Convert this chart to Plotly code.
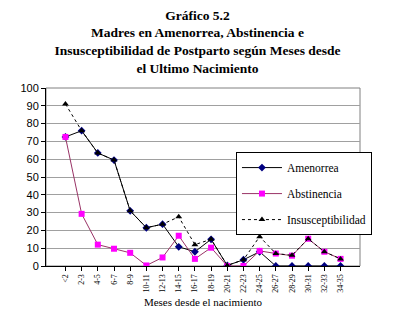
import plotly.graph_objects as go

categorias = ["<2", "2-3", "4-5", "6-7", "8-9", "10-11", "12-13", "14-15", "16-17",
              "18-19", "20-21", "22-23", "24-25", "26-27", "28-29", "30-31", "32-33", "34-35"]
amenorrea = [72.5, 76, 63.5, 59.5, 31, 21.5, 23.5, 10.8, 8, 15, 0.3, 3.5, 8, 0, 0, 0, 0, 0]
abstinencia = [72.5, 29.3, 12, 9.7, 7.4, 0.3, 4.8, 17, 4, 10.3, 0, 0, 8.5, 7, 5.8, 15.3, 8, 4]
insusceptibilidad = [91, 76, 63.5, 59.5, 31, 21.5, 23.5, 27.6, 12, 15, 0.3, 3.5, 16.5, 7, 6, 15.3, 8, 4]
yticks = [0, 10, 20, 30, 40, 50, 60, 70, 80, 90, 100]

serif = "Liberation Serif"
sans = "Liberation Sans"

fig = go.Figure()
fig.add_trace(go.Scatter(
    x=categorias, y=amenorrea, name="Amenorrea", mode="lines+markers",
    line=dict(color="black", width=1),
    marker=dict(symbol="diamond", color="#000080", size=6),
    legendgroup="a"))
fig.add_trace(go.Scatter(
    x=categorias, y=abstinencia, name="Abstinencia", mode="lines+markers",
    line=dict(color="#993366", width=1),
    marker=dict(symbol="square", color="#FF00FF", size=6),
    legendgroup="b"))
fig.add_trace(go.Scatter(
    x=categorias, y=insusceptibilidad, name="Insusceptibilidad", mode="lines+markers",
    line=dict(color="black", width=1, dash="dot"),
    marker=dict(symbol="triangle-up", color="black", size=6),
    legendgroup="c"))

fig.update_layout(
    width=395, height=332,
    margin=dict(l=46, r=35, t=88, b=66),
    paper_bgcolor="white", plot_bgcolor="white",
    font=dict(family=serif, color="black", size=12),
    title=dict(
        text="<b>Gráfico 5.2</b><br><b>Madres en Amenorrea, Abstinencia e</b><br>"
             "<b>Insusceptibilidad de Postparto según Meses desde</b><br><b>el Ultimo Nacimiento</b>",
        x=0.5, xanchor="center", y=0.94, yanchor="top",
        font=dict(family=serif, size=13.5, color="black")),
    legend=dict(
        x=0.605, y=0.64, xanchor="left", yanchor="top",
        bgcolor="white", bordercolor="black", borderwidth=1,
        font=dict(family=serif, size=11.5, color="black"),
        tracegroupgap=7, itemwidth=40),
    showlegend=True,
)
fig.update_xaxes(
    type="category", tickangle=-90,
    tickfont=dict(family=serif, size=8, color="black"),
    showline=True, linecolor="black", linewidth=1, mirror=False,
    ticks="outside", ticklen=4, tickcolor="black",
    showgrid=False,
    title=dict(text="Meses desde el nacimiento", font=dict(family=serif, size=11, color="black"), standoff=6),
)
fig.update_yaxes(
    range=[0, 100], tickvals=yticks,
    tickfont=dict(family=sans, size=11, color="black"),
    showline=True, linecolor="black", linewidth=1,
    ticks="outside", ticklen=4, tickcolor="black",
    showgrid=True, gridcolor="#A0A0A0", gridwidth=1,
    zeroline=False,
)
fig.add_shape(type="rect", xref="paper", yref="paper", x0=0, y0=0, x1=1, y1=1,
              line=dict(color="#808080", width=1), layer="below")

fig.write_html("out.html")
